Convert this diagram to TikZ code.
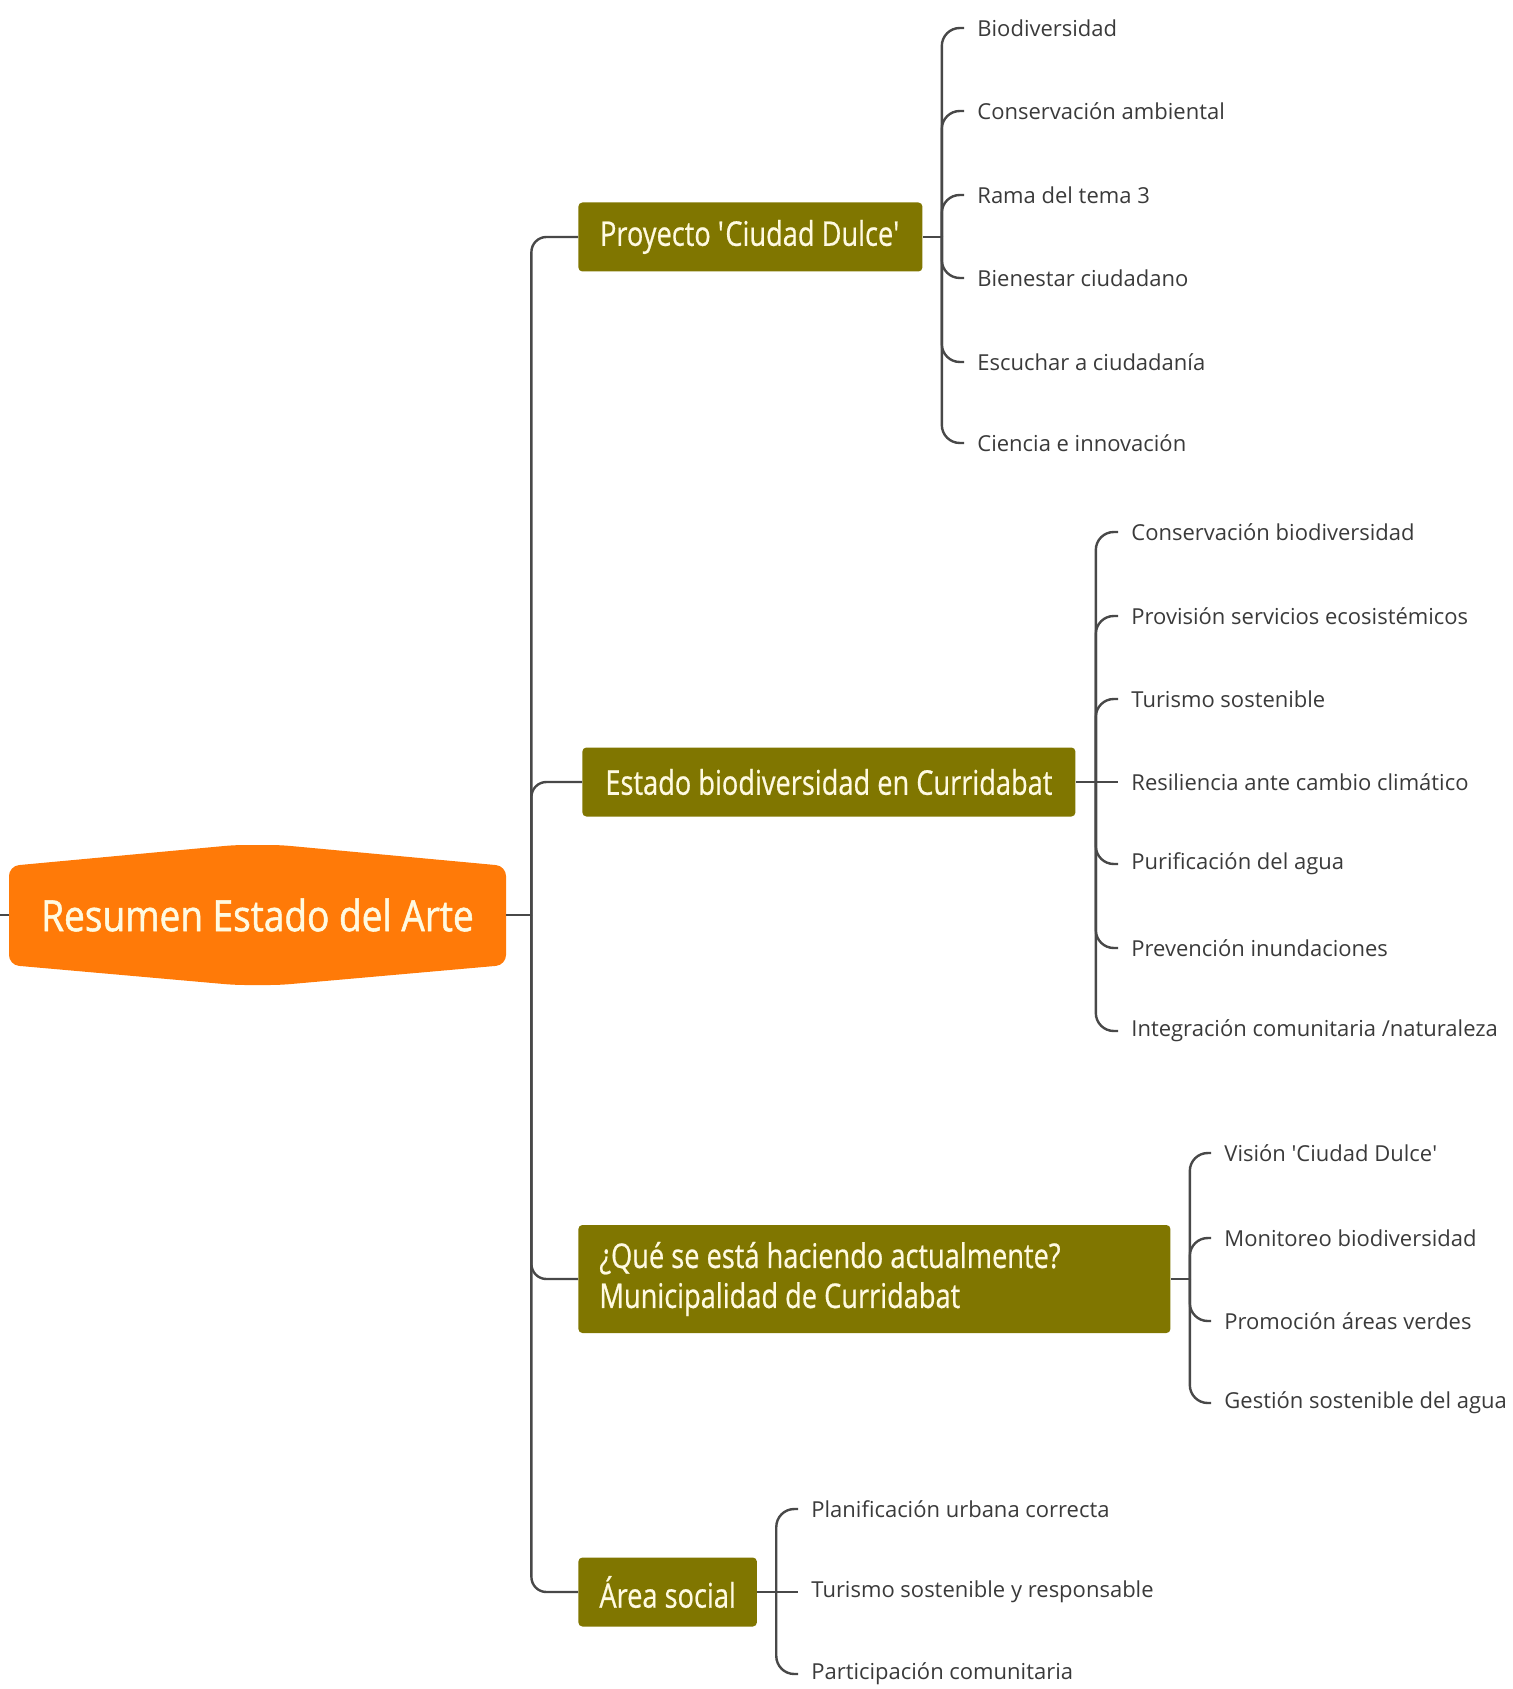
\documentclass[tikz,border=0pt]{standalone}
\usepackage{fontspec}
\setmainfont{Open Sans}
\newfontfamily\narrowfont{Open Sans}[FakeStretch=0.8, FakeBold=0.6]
\newfontfamily\rootfont{Open Sans}[FakeStretch=0.86, FakeBold=1.2]
\usetikzlibrary{positioning}

\definecolor{rootorange}{RGB}{255,122,8}
\definecolor{olivebox}{RGB}{128,118,0}
\definecolor{boxtext}{RGB}{255,250,225}
\definecolor{leaftext}{RGB}{58,58,58}
\definecolor{linkgray}{RGB}{72,72,72}

\begin{document}
\begin{tikzpicture}[
        x=0.5pt, y=-0.5pt,
        root/.style={rectangle, minimum width=248.5pt, minimum height=60pt, inner sep=0pt, text=boxtext, font=\rootfont\fontsize{21.5}{26}\selectfont},
        branch/.style={rectangle, rounded corners=2pt, fill=olivebox, text=boxtext, anchor=west, minimum height=34.5pt, inner xsep=10.5pt, font=\narrowfont\fontsize{17}{20}\selectfont},
        leaf/.style={anchor=west, text=leaftext, inner xsep=6.5pt, inner ysep=2pt, font=\fontsize{11}{13}\selectfont},
        link/.style={draw=linkgray, line width=1.2pt, rounded corners=9pt},
        trunk/.style={link, rounded corners=7.5pt}]
    \useasboundingbox (0,0) rectangle (1512,1689);

    % Tema central
    \fill[rootorange, rounded corners=5pt] (9,866) -- (235,845) -- (280,845) -- (506,866)
        -- (506,965) -- (280,985) -- (235,985) -- (9,965) -- cycle;
    \node[root] (root) at (257.5,915) {Resumen Estado del Arte};

    % Ramas principales
    \node[branch, minimum width=172pt] (ciudad) at (578,237) {Proyecto \textquotesingle Ciudad Dulce\textquotesingle};
    \node[branch, minimum width=246.5pt] (estado) at (582,782) {Estado biodiversidad en Curridabat};
    \node[branch, minimum height=54pt, text width=275pt, align=flush left] (actual) at (578,1279)
        {¿Qué se está haciendo actualmente?\\Municipalidad de Curridabat};
    \node[branch, minimum width=89pt] (social) at (578,1592) {Área social};

    % Subtemas
    \node[leaf] (biodiv) at (964,28) {Biodiversidad};
    \node[leaf] (conserv) at (964,111) {Conservación ambiental};
    \node[leaf] (rama) at (964,195) {Rama del tema 3};
    \node[leaf] (bienestar) at (964,278) {Bienestar ciudadano};
    \node[leaf] (escuchar) at (964,362) {Escuchar a ciudadanía};
    \node[leaf] (ciencia) at (964,443) {Ciencia e innovación};

    \node[leaf] (conservbio) at (1118,532) {Conservación biodiversidad};
    \node[leaf] (provision) at (1118,616) {Provisión servicios ecosistémicos};
    \node[leaf] (turismo) at (1118,699) {Turismo sostenible};
    \node[leaf] (resiliencia) at (1118,782) {Resiliencia ante cambio climático};
    \node[leaf] (purif) at (1118,864) {Purificación del agua};
    \node[leaf] (prevencion) at (1118,948) {Prevención inundaciones};
    \node[leaf] (integracion) at (1118,1031) {Integración comunitaria /naturaleza};

    \node[leaf] (vision) at (1211,1153) {Visión \textquotesingle Ciudad Dulce\textquotesingle};
    \node[leaf] (monitoreo) at (1211,1238) {Monitoreo biodiversidad};
    \node[leaf] (promocion) at (1211,1321) {Promoción áreas verdes};
    \node[leaf] (gestion) at (1211,1403) {Gestión sostenible del agua};

    \node[leaf] (planif) at (798,1509) {Planificación urbana correcta};
    \node[leaf] (turismoresp) at (798,1592) {Turismo sostenible y responsable};
    \node[leaf] (particip) at (798,1674) {Participación comunitaria};

    % Conectores del tema central
    \coordinate (edge) at (0,915);
    \draw[link] (edge) -- (root.west);
    \draw[link] (root.east) -- ++(25,0) coordinate (rj);
    \draw[trunk] (rj) |- (ciudad.west);
    \draw[trunk] (rj) |- (estado.west);
    \draw[trunk] (rj) |- (actual.west);
    \draw[trunk] (rj) |- (social.west);

    % Conectores de las ramas
    \draw[link] (ciudad.east) -- ++(19,0) coordinate (cj);
    \draw[link] (cj) |- (biodiv.west);
    \draw[link] (cj) |- (conserv.west);
    \draw[link] (cj) |- (rama.west);
    \draw[link] (cj) |- (bienestar.west);
    \draw[link] (cj) |- (escuchar.west);
    \draw[link] (cj) |- (ciencia.west);

    \draw[link] (estado.east) -- ++(20,0) coordinate (ej);
    \draw[link] (ej) |- (conservbio.west);
    \draw[link] (ej) |- (provision.west);
    \draw[link] (ej) |- (turismo.west);
    \draw[link] (ej) -- (resiliencia.west);
    \draw[link] (ej) |- (purif.west);
    \draw[link] (ej) |- (prevencion.west);
    \draw[link] (ej) |- (integracion.west);

    \draw[link] (actual.east) -- ++(19,0) coordinate (aj);
    \draw[link] (aj) |- (vision.west);
    \draw[link] (aj) |- (monitoreo.west);
    \draw[link] (aj) |- (promocion.west);
    \draw[link] (aj) |- (gestion.west);

    \draw[link] (social.east) -- ++(19,0) coordinate (sj);
    \draw[link] (sj) |- (planif.west);
    \draw[link] (sj) -- (turismoresp.west);
    \draw[link] (sj) |- (particip.west);
\end{tikzpicture}
\end{document}
